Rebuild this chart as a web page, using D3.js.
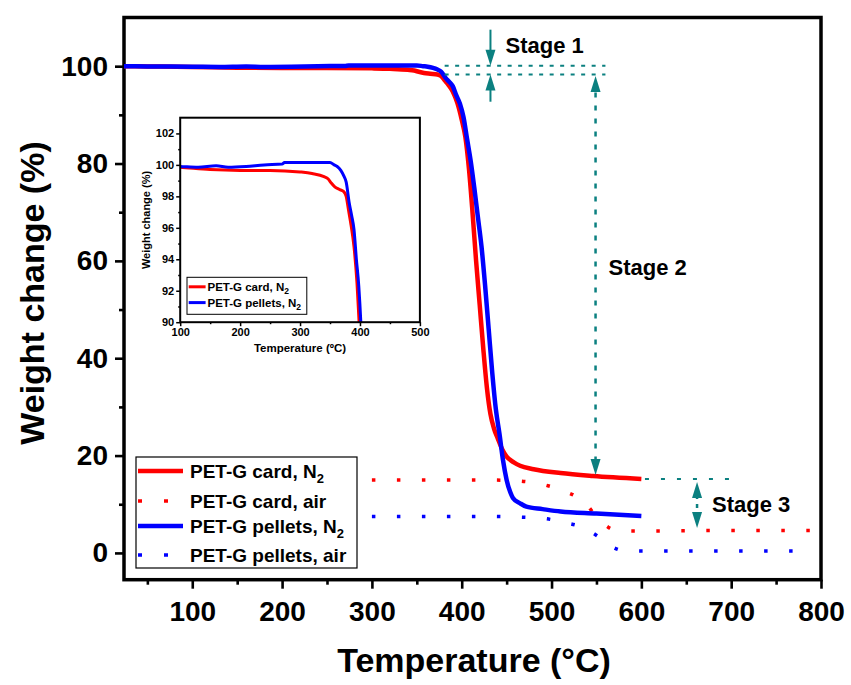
<!DOCTYPE html>
<html>
<head>
<meta charset="utf-8">
<title>PET-G TGA</title>
<script src="https://d3js.org/d3.v7.min.js"></script>
<style>
body { margin: 0; background: #fff; }
svg { font-family: Arial, "Liberation Sans", Helvetica, sans-serif; font-weight: bold; }
</style>
</head>
<body>
<svg id="chart" width="851" height="685"></svg>
<script>
// Weight curves: [temperature (°C), weight (%)]
var cardN2 = [[24,100],[50,99.95],[100,99.85],[150,99.7],[200,99.65],[250,99.65],[300,99.55],[320,99.45],[340,99.25],
  [347,99.1],[352,98.85],[358,98.6],[365,98.45],[373,98.3],[377,98.0],[381,97.1],[385,96.2],[390,94.8],[395,92.5],
  [400,89],[404,85.5],[408,79],[412,70],[416,60],[420,51],[424,42],[428,34],[432,28.5],[436,25.5],[440,23.6],
  [445,21.3],[450,19.8],[458,18.6],[465,17.9],[480,17.2],[510,16.4],[546,15.8],[600,15.2]];
var pelletsN2 = [[24,100],[50,99.95],[100,99.9],[130,99.85],[160,99.95],[180,99.85],[210,99.9],[240,100],[270,100.05],
  [274,100.15],[350,100.15],[357,100],[362,99.9],[368,99.65],[373,99.3],[377,98.9],[382,97.6],[386,96.8],[390,95.9],
  [394,94],[398,92.3],[402,89.5],[406,85],[410,80.5],[414,75],[418,69],[422,63],[426,55],[430,46],[434,37],
  [438,29.5],[442,24.5],[446,19],[450,15],[454,12.5],[457,11.3],[465,10.2],[472,9.5],[490,9.0],[510,8.5],
  [550,8.1],[600,7.6]];
var cardAir = [[300,15],[360,15],[420,15],[450,14.9],[474,14.6],[496,13.8],[514,12.7],[530,11.3],[537,10.3],
  [550,7.5],[563,5.3],[575,4.6],[583,4.5],[700,4.6],[795,4.6]];
var pelletsAir = [[300,7.5],[420,7.5],[474,7.3],[495,7.0],[516,6.2],[534,5.3],[551,3.5],[565,1.5],[583,0.4],[775,0.4]];

var seriesNames = ["PET-G card, N", "PET-G card, air", "PET-G pellets, N", "PET-G pellets, air"];
var seriesSub = ["2", "", "2", ""];

var xTicks = [100, 200, 300, 400, 500, 600, 700, 800];
var xMinor = [50, 150, 250, 350, 450, 550, 650, 750];
var yTicks = [0, 20, 40, 60, 80, 100];
var yMinor = [10, 30, 50, 70, 90];
var insetXTicks = [100, 200, 300, 400, 500];
var insetXMinor = [150, 250, 350, 450];
var insetYTicks = [90, 92, 94, 96, 98, 100, 102];
var insetYMinor = [91, 93, 95, 97, 99, 101];

// stage markers (weight %, temperature °C)
var stage1Levels = [100.1, 98.3];
var stage1Span = [381, 560];
var stage1T = 432;
var stage2Levels = [98.3, 16.0];
var stage2T = 549;
var stage3Levels = [15.2, 5.1];
var stage3Span = [604, 702];
var stage3T = 662;

var RED = "#ff0000", BLUE = "#0000ff", TEAL = "#0b8080";

var svg = d3.select("#chart");

// main scales
var x = d3.scaleLinear().domain([24, 800]).range([124, 821]);
var y = d3.scaleLinear().domain([-5.5, 110]).range([579.7, 17.5]);

svg.append("defs").append("clipPath").attr("id", "mainClip")
  .append("rect").attr("x", 124).attr("y", 17.5).attr("width", 697).attr("height", 562.2);
svg.select("defs").append("clipPath").attr("id", "insetClip")
  .append("rect").attr("x", 180.2).attr("y", 117.7).attr("width", 239.7).attr("height", 204.5);

function styleAxis(g, size) {
  g.select(".domain").remove();
  g.selectAll("line").attr("stroke", "#000").attr("stroke-width", size > 20 ? 2.6 : 1.5);
  g.selectAll("text").attr("fill", "#000").attr("font-size", size)
    .attr("font-family", "Arial, 'Liberation Sans', sans-serif").attr("font-weight", "bold");
}

// main axes
svg.append("g").attr("transform", "translate(0,579.7)")
  .call(d3.axisBottom(x).tickValues(xTicks).tickSize(9).tickPadding(12).tickFormat(d3.format("d")))
  .call(styleAxis, 28);
svg.append("g").attr("transform", "translate(0,579.7)")
  .call(d3.axisBottom(x).tickValues(xMinor).tickSize(5).tickFormat(""))
  .call(styleAxis, 28);
svg.append("g").attr("transform", "translate(124,0)")
  .call(d3.axisLeft(y).tickValues(yTicks).tickSize(9).tickPadding(7).tickFormat(d3.format("d")))
  .call(styleAxis, 28);
svg.append("g").attr("transform", "translate(124,0)")
  .call(d3.axisLeft(y).tickValues(yMinor).tickSize(5).tickFormat(""))
  .call(styleAxis, 28);

svg.append("rect").attr("x", 124).attr("y", 17.5).attr("width", 697).attr("height", 562.2)
  .attr("fill", "none").attr("stroke", "#000").attr("stroke-width", 3.5);

svg.append("text").attr("x", 474).attr("y", 672).attr("text-anchor", "middle")
  .attr("font-size", 34).text("Temperature (°C)");
svg.append("text").attr("transform", "translate(44,293)rotate(-90)").attr("text-anchor", "middle")
  .attr("font-size", 34).text("Weight change (%)");

// curves
var line = d3.line().x(function (d) { return x(d[0]); }).y(function (d) { return y(d[1]); })
  .curve(d3.curveMonotoneX);
var plot = svg.append("g").attr("clip-path", "url(#mainClip)");

plot.append("path").datum(cardAir).attr("d", line).attr("fill", "none").attr("stroke", RED)
  .attr("stroke-width", 3.5).attr("stroke-dasharray", "3.5,21.5");
plot.append("path").datum(pelletsAir).attr("d", line).attr("fill", "none").attr("stroke", BLUE)
  .attr("stroke-width", 3.5).attr("stroke-dasharray", "3.5,21.5");
plot.append("path").datum(cardN2).attr("d", line).attr("fill", "none").attr("stroke", RED)
  .attr("stroke-width", 4.5);
plot.append("path").datum(pelletsN2).attr("d", line).attr("fill", "none").attr("stroke", BLUE)
  .attr("stroke-width", 4.5);

// stage annotations
var ann = svg.append("g");
function arrowHead(px, py, dir) {
  // dir = 1 points down, -1 points up; tip at (px, py)
  ann.append("path")
    .attr("d", "M" + px + "," + py + "L" + (px - 5) + "," + (py - dir * 16) + "L" + (px + 5) + "," + (py - dir * 16) + "Z")
    .attr("fill", TEAL);
}
stage1Levels.forEach(function (v) {
  ann.append("line").attr("x1", x(stage1Span[0])).attr("x2", x(stage1Span[1]))
    .attr("y1", y(v)).attr("y2", y(v)).attr("stroke", TEAL).attr("stroke-width", 2).attr("stroke-dasharray", "4,6.5");
});
var s1x = x(stage1T);
ann.append("line").attr("x1", s1x).attr("x2", s1x).attr("y1", y(107.5)).attr("y2", y(stage1Levels[0]) - 10)
  .attr("stroke", TEAL).attr("stroke-width", 2);
arrowHead(s1x, y(stage1Levels[0]), 1);
ann.append("line").attr("x1", s1x).attr("x2", s1x).attr("y1", y(92.7)).attr("y2", y(stage1Levels[1]) + 10)
  .attr("stroke", TEAL).attr("stroke-width", 2);
arrowHead(s1x, y(stage1Levels[1]), -1);
ann.append("text").attr("x", s1x + 15).attr("y", 53).attr("font-size", 22).text("Stage 1");

var s2x = x(stage2T);
ann.append("line").attr("x1", s2x).attr("x2", s2x).attr("y1", y(stage2Levels[0]) + 18).attr("y2", y(stage2Levels[1]) - 16)
  .attr("stroke", TEAL).attr("stroke-width", 2.5).attr("stroke-dasharray", "5,8");
arrowHead(s2x, y(stage2Levels[0]) + 1.5, -1);
arrowHead(s2x, y(stage2Levels[1]), 1);
ann.append("text").attr("x", s2x + 13).attr("y", y(57)).attr("font-size", 22).text("Stage 2");

ann.append("line").attr("x1", x(stage3Span[0])).attr("x2", x(stage3Span[1]))
  .attr("y1", y(stage3Levels[0])).attr("y2", y(stage3Levels[0]))
  .attr("stroke", TEAL).attr("stroke-width", 2).attr("stroke-dasharray", "4,12");
var s3x = x(stage3T);
ann.append("line").attr("x1", s3x).attr("x2", s3x).attr("y1", y(stage3Levels[0]) + 16).attr("y2", y(stage3Levels[1]) - 16)
  .attr("stroke", TEAL).attr("stroke-width", 2.5).attr("stroke-dasharray", "4,5");
arrowHead(s3x, y(stage3Levels[0]) + 3, -1);
arrowHead(s3x, y(stage3Levels[1]), 1);
ann.append("text").attr("x", s3x + 15).attr("y", 512).attr("font-size", 22).text("Stage 3");

// main legend
var legendColors = [RED, RED, BLUE, BLUE];
var legendDash = [null, "4,22", null, "4,22"];
var legendRows = [471, 501, 526, 555];
var leg = svg.append("g");
leg.append("rect").attr("x", 136).attr("y", 457).attr("width", 221).attr("height", 111)
  .attr("fill", "#fff").attr("stroke", "#000").attr("stroke-width", 1.2);
seriesNames.forEach(function (name, i) {
  leg.append("line").attr("x1", 138).attr("x2", 183).attr("y1", legendRows[i]).attr("y2", legendRows[i])
    .attr("stroke", legendColors[i]).attr("stroke-width", legendDash[i] ? 3.5 : 4.5)
    .attr("stroke-dasharray", legendDash[i]);
  var t = leg.append("text").attr("x", 190).attr("y", legendRows[i] + 7).attr("font-size", 19).text(name);
  if (seriesSub[i]) t.append("tspan").attr("font-size", 13).attr("dy", 5).text(seriesSub[i]);
});

// inset
var ix = d3.scaleLinear().domain([100, 500]).range([180.2, 419.9]);
var iy = d3.scaleLinear().domain([90, 103]).range([322.2, 117.7]);
var inset = svg.append("g");
inset.append("rect").attr("x", 180.2).attr("y", 117.7).attr("width", 239.7).attr("height", 204.5).attr("fill", "#fff");

inset.append("g").attr("transform", "translate(0,322.2)")
  .call(d3.axisBottom(ix).tickValues(insetXTicks).tickSize(4).tickPadding(2).tickFormat(d3.format("d")))
  .call(styleAxis, 11);
inset.append("g").attr("transform", "translate(0,322.2)")
  .call(d3.axisBottom(ix).tickValues(insetXMinor).tickSize(2).tickFormat(""))
  .call(styleAxis, 11);
inset.append("g").attr("transform", "translate(180.2,0)")
  .call(d3.axisLeft(iy).tickValues(insetYTicks).tickSize(4).tickPadding(2).tickFormat(d3.format("d")))
  .call(styleAxis, 11);
inset.append("g").attr("transform", "translate(180.2,0)")
  .call(d3.axisLeft(iy).tickValues(insetYMinor).tickSize(2).tickFormat(""))
  .call(styleAxis, 11);

var iline = d3.line().x(function (d) { return ix(d[0]); }).y(function (d) { return iy(d[1]); })
  .curve(d3.curveMonotoneX);
var iplot = inset.append("g").attr("clip-path", "url(#insetClip)");
iplot.append("path").datum(cardN2).attr("d", iline).attr("fill", "none").attr("stroke", RED).attr("stroke-width", 3);
iplot.append("path").datum(pelletsN2).attr("d", iline).attr("fill", "none").attr("stroke", BLUE).attr("stroke-width", 3);

inset.append("rect").attr("x", 180.2).attr("y", 117.7).attr("width", 239.7).attr("height", 204.5)
  .attr("fill", "none").attr("stroke", "#000").attr("stroke-width", 2);

inset.append("text").attr("x", 300).attr("y", 352).attr("text-anchor", "middle")
  .attr("font-size", 11.5).text("Temperature (ºC)");
inset.append("text").attr("transform", "translate(150,220)rotate(-90)").attr("text-anchor", "middle")
  .attr("font-size", 11).text("Weight change (%)");

var insetRows = [286.8, 302.6];
var insetNames = [seriesNames[0], seriesNames[2]];
var insetColors = [RED, BLUE];
inset.append("rect").attr("x", 187).attr("y", 277.3).attr("width", 119.8).attr("height", 37)
  .attr("fill", "#fff").attr("stroke", "#000").attr("stroke-width", 1);
insetNames.forEach(function (name, i) {
  inset.append("line").attr("x1", 188.7).attr("x2", 205.6).attr("y1", insetRows[i]).attr("y2", insetRows[i])
    .attr("stroke", insetColors[i]).attr("stroke-width", 3);
  inset.append("text").attr("x", 207.5).attr("y", insetRows[i] + 4).attr("font-size", 11.5)
    .text(name).append("tspan").attr("font-size", 8.5).attr("dy", 3).text("2");
});
</script>
</body>
</html>
